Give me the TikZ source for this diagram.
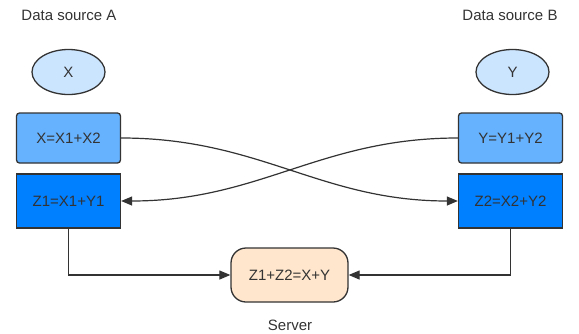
\documentclass[tikz,border=0pt]{standalone}
\usepackage{fontspec}
\setmainfont{Liberation Sans}
\usetikzlibrary{shapes.geometric,arrows.meta}
\definecolor{ink}{HTML}{333333}
\definecolor{ellfill}{HTML}{CCE5FF}
\definecolor{lightbox}{HTML}{66B2FF}
\definecolor{darkbox}{HTML}{007FFF}
\definecolor{srvfill}{HTML}{FFE6CC}
\tikzset{
  base/.style={draw=ink, line width=1.3pt, text=ink, font=\fontsize{15}{18}\selectfont, inner sep=0pt},
  ellnode/.style={base, ellipse, fill=ellfill, minimum width=73pt, minimum height=45pt},
  lbox/.style={base, rectangle, rounded corners=3pt, fill=lightbox, minimum width=104pt, minimum height=50pt},
  dbox/.style={base, rectangle, fill=darkbox, minimum width=104pt, minimum height=54pt},
  srv/.style={base, rectangle, rounded corners=15pt, fill=srvfill, minimum width=117pt, minimum height=54pt},
  lbl/.style={text=ink, font=\fontsize{15}{18}\selectfont, inner sep=0pt},
  conn/.style={draw=ink, line width=1.2pt, -{Triangle[length=11pt,width=9pt]}},
}
\begin{document}
\begin{tikzpicture}[x=1pt,y=-1pt]
\useasboundingbox (0,0) rectangle (579,333);
\node[lbl] (la) at (69,15) {Data source A};
\node[lbl] (lb) at (510,15) {Data source B};
\node[ellnode] (x) at (68.5,72) {X};
\node[ellnode] (y) at (512.5,72) {Y};
\node[lbox] (xs) at (68.5,138) {X=X1+X2};
\node[lbox] (ys) at (510.5,138) {Y=Y1+Y2};
\node[dbox] (z1) at (68.5,201) {Z1=X1+Y1};
\node[dbox] (z2) at (510.5,201) {Z2=X2+Y2};
\node[srv] (s) at (289.5,275) {Z1+Z2=X+Y};
\node[lbl] (sl) at (290,325) {Server};
\draw[conn] (xs.east) .. controls (260,138) and (320,201) .. (z2.west);
\draw[conn] (ys.west) .. controls (320,138) and (260,201) .. (z1.east);
\draw[conn] (z1.south) |- (s.west);
\draw[conn] (z2.south) |- (s.east);
\end{tikzpicture}
\end{document}
